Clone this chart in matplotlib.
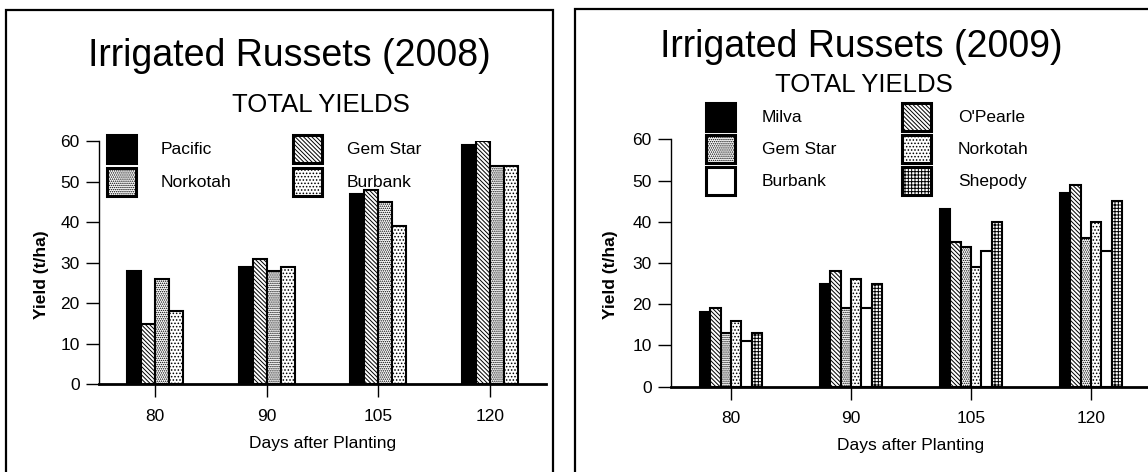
import numpy as np
import matplotlib
matplotlib.use("Agg")
import matplotlib.pyplot as plt
from matplotlib.patches import Rectangle
from matplotlib.legend import Legend

# ---------------- data ----------------
days = ['80', '90', '105', '120']

varieties_2008 = ['Pacific', 'Gem Star', 'Norkotah', 'Burbank']
pacific_2008 = [28, 29, 47, 59]
gemstar_2008 = [15, 31, 48, 60]
norkotah_2008 = [26, 28, 45, 54]
burbank_2008 = [18, 29, 39, 54]

varieties_2009 = ['Milva', "O'Pearle", 'Gem Star', 'Norkotah', 'Burbank', 'Shepody']
milva_2009 = [18, 25, 43, 47]
opearle_2009 = [19, 28, 35, 49]
gemstar_2009 = [13, 19, 34, 36]
norkotah_2009 = [16, 26, 29, 40]
burbank_2009 = [11, 19, 33, 33]
shepody_2009 = [13, 25, 40, 45]

# ---------------- style ----------------
plt.rcParams['font.family'] = ['Liberation Sans', 'DejaVu Sans']
plt.rcParams['hatch.linewidth'] = 0.7

W, H = 1148, 472
FS = 12.5
FS_PX = FS * 100 / 72.0

fills = {
    'black': dict(facecolor='black', hatch=None),
    'diag': dict(facecolor='white', hatch='\\' * 8),
    'dense': dict(facecolor='white', hatch='.' * 8),
    'sparse': dict(facecolor='white', hatch='.' * 5),
    'white': dict(facecolor='white', hatch=None),
    'grid': dict(facecolor='white', hatch='+' * 5),
}


def fx(px):
    return px / W


def fy(py):
    return 1 - py / H


fig = plt.figure(figsize=(W / 100, H / 100), dpi=100)

# panel borders
fig.add_artist(Rectangle((fx(6), fy(490)), (553 - 6) / W, (490 - 10) / H,
                         transform=fig.transFigure, fill=False, lw=1.6,
                         edgecolor='black', clip_on=False))
fig.add_artist(Rectangle((fx(574.5), fy(490)), 700 / W, (490 - 9.5) / H,
                         transform=fig.transFigure, fill=False, lw=1.6,
                         edgecolor='black', clip_on=False))


def draw_panel(ax, names, series, styles, group_w, ylab_x_px, ylab_y_px,
               xlab_base_px, ax_left_px, ax_bot_px, ax_w_px, ax_h_px):
    n = len(names)
    w = group_w / n
    x = np.arange(len(days))
    handles = []
    for i, (name, vals, st) in enumerate(zip(names, series, styles)):
        b = ax.bar(x + (i - (n - 1) / 2) * w, vals, width=w,
                   edgecolor='black', linewidth=1.5, label=name, **fills[st])
        handles.append(b)
    ax.set_xlim(-0.5, 3.5)
    ax.set_ylim(0, 60)
    ax.set_yticks(range(0, 61, 10))
    ax.set_xticks(x)
    ax.set_xticklabels(days)
    for s in ['top', 'right']:
        ax.spines[s].set_visible(False)
    ax.spines['left'].set_linewidth(1.0)
    ax.spines['bottom'].set_linewidth(2.0)
    ax.tick_params(axis='y', direction='out', length=9.5, width=1.0, pad=4.5,
                   labelsize=FS)
    ax.tick_params(axis='x', direction='out', length=9, width=1.0, pad=8.5,
                   labelsize=FS)
    ax.set_ylabel('Yield (t/ha)', fontsize=FS, fontweight='bold')
    ax.yaxis.set_label_coords((ylab_x_px - ax_left_px) / ax_w_px,
                              (ax_bot_px - ylab_y_px) / ax_h_px)
    ax.yaxis.label.set_verticalalignment('center')
    ax.set_xlabel('Days after Planting', fontsize=FS)
    ax.xaxis.set_label_coords(0.5, (ax_bot_px - xlab_base_px) / ax_h_px)
    ax.xaxis.label.set_verticalalignment('baseline')
    return handles


def column_legend(ax, handles, labels, x_px, y_px, textpad, spacing_px):
    hh = (28 - 0.35 * 0.7 * FS_PX) / (0.65 * FS_PX)
    leg = Legend(ax, handles, labels, loc='upper left',
                 bbox_to_anchor=(fx(x_px), fy(y_px)),
                 bbox_transform=fig.transFigure, frameon=False,
                 fontsize=FS, handlelength=29 / FS_PX, handleheight=hh,
                 handletextpad=textpad, labelspacing=spacing_px / FS_PX,
                 borderpad=0, borderaxespad=0)
    for h in leg.legend_handles:
        h.set_linewidth(2.2)
    ax.add_artist(leg)
    return leg


# ---------------- 2008 panel ----------------
ax1 = fig.add_axes([fx(99), fy(384.3), (546 - 99) / W, (384.3 - 141.3) / H])
h1 = draw_panel(ax1, varieties_2008,
                [pacific_2008, gemstar_2008, norkotah_2008, burbank_2008],
                ['black', 'diag', 'dense', 'sparse'], 0.5,
                41, 275, 448, 99, 384.3, 447, 243)
column_legend(ax1, [h1[0], h1[2]], [varieties_2008[0], varieties_2008[2]],
              107, 135, 25 / FS_PX, 5)
column_legend(ax1, [h1[1], h1[3]], [varieties_2008[1], varieties_2008[3]],
              293, 135, 25 / FS_PX, 5)
fig.text(fx(289), fy(65.7), 'Irrigated Russets (2008)', fontsize=27,
         ha='center', va='baseline')
fig.text(fx(320.5), fy(111.7), 'TOTAL YIELDS', fontsize=18.5,
         ha='center', va='baseline')

# ---------------- 2009 panel ----------------
ax2 = fig.add_axes([fx(671), fy(386.7), (1151 - 671) / W, (386.7 - 139.3) / H])
h2 = draw_panel(ax2, varieties_2009,
                [milva_2009, opearle_2009, gemstar_2009, norkotah_2009,
                 burbank_2009, shepody_2009],
                ['black', 'diag', 'dense', 'sparse', 'white', 'grid'], 0.513,
                610, 275, 450, 671, 386.7, 480, 247.4)
column_legend(ax2, [h2[0], h2[2], h2[4]],
              [varieties_2009[0], varieties_2009[2], varieties_2009[4]],
              706, 103, 27 / FS_PX, 4)
column_legend(ax2, [h2[1], h2[3], h2[5]],
              [varieties_2009[1], varieties_2009[3], varieties_2009[5]],
              902, 103, 27 / FS_PX, 4)
fig.text(fx(861), fy(56.7), 'Irrigated Russets (2009)', fontsize=27,
         ha='center', va='baseline')
fig.text(fx(864), fy(92.5), 'TOTAL YIELDS', fontsize=18.5,
         ha='center', va='baseline')

fig.savefig('out.png', dpi=100)
